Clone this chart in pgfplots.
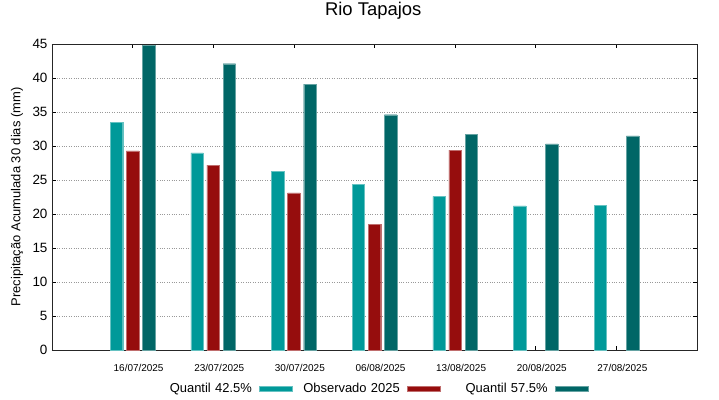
\documentclass[border=0pt]{standalone}
\usepackage{pgfplots}
\pgfplotsset{compat=1.18}
\usepackage{fontspec}
\setmainfont{Liberation Sans}
\definecolor{cA}{RGB}{0,153,153}
\definecolor{cB}{RGB}{150,13,13}
\definecolor{cC}{RGB}{0,102,102}
\begin{document}
\begin{tikzpicture}
\begin{axis}[
  scale only axis, width=645bp, height=306bp,
  xmin=-1, xmax=7, ymin=0, ymax=45,
  xtick={0,...,6},
  xticklabels={16/07/2025,23/07/2025,30/07/2025,06/08/2025,13/08/2025,20/08/2025,27/08/2025},
  ytick={0,5,...,45},
  ymajorgrids, grid style={dotted, gray!80, line width=0.6pt},
  tick align=inside, major tick length=4bp,
  xtick pos=both, ytick pos=both,
  tick style={black, line width=0.6pt},
  axis line style={black!85, line width=0.7pt},
  /pgf/number format/assume math mode=true,
  yticklabel style={font=\fontsize{13.5}{15}\selectfont, xshift=-1bp},
  xticklabel style={font=\fontsize{10}{12}\selectfont, xshift=6bp, yshift=-10.5bp},
  ylabel={Precipitação Acumulada 30 dias (mm)},
  ylabel style={font=\fontsize{13}{15}\selectfont, at={(axis description cs:-0.0543,0.5)}, anchor=center},
  title={Rio Tapajos},
  title style={font=\fontsize{18.5}{21}\selectfont, at={(axis description cs:0.498,1.090)}, anchor=center},
  legend columns=3,
  legend plot pos=right,
  legend image code/.code={\fill[#1] (0bp,-2.5bp) rectangle (33bp,2.5bp);},
  legend style={draw=none, fill=none, font=\fontsize{13}{15}\selectfont,
    nodes={text width=104bp, align=right, inner sep=0pt},
    at={(axis description cs:0.4899,-0.1258)}, anchor=center,
    /tikz/every odd column/.append style={column sep=7bp},
    /tikz/every even column/.append style={column sep=3.5bp}},
  clip=false,
]
\addplot[ybar, bar width=0.155, bar shift=-0.2, fill=cA, draw=cA!60!white, line width=0.4pt]
  coordinates {(0,33.5) (1,29.0) (2,26.3) (3,24.4) (4,22.6) (5,21.2) (6,21.3)};
\addlegendentry{Quantil 42.5\%}
\addplot[ybar, bar width=0.155, bar shift=0, fill=cB, draw=cB!60!white, line width=0.4pt]
  coordinates {(0,29.3) (1,27.2) (2,23.1) (3,18.5) (4,29.4)};
\addlegendentry{Observado 2025}
\addplot[ybar, bar width=0.155, bar shift=0.2, fill=cC, draw=cC!60!white, line width=0.4pt]
  coordinates {(0,44.8) (1,42.1) (2,39.1) (3,34.6) (4,31.7) (5,30.3) (6,31.5)};
\addlegendentry{Quantil 57.5\%}
\coordinate (bl) at (rel axis cs:-0.0806,-0.1601);
\coordinate (tr) at (rel axis cs:1.0341,1.1438);
\end{axis}
\pgfresetboundingbox
\path (bl) rectangle (tr);
\end{tikzpicture}
\end{document}
